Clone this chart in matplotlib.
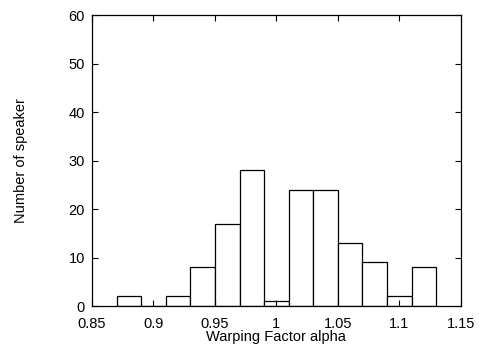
import matplotlib
matplotlib.use("Agg")
import matplotlib.pyplot as plt

bin_centers = [0.88, 0.90, 0.92, 0.94, 0.96, 0.98, 1.00, 1.02, 1.04, 1.06, 1.08, 1.10, 1.12]
counts = [2, 0, 2, 8, 17, 28, 1, 24, 24, 13, 9, 2, 8]
xticks = [0.85, 0.9, 0.95, 1.0, 1.05, 1.1, 1.15]
xticklabels = ["0.85", "0.9", "0.95", "1", "1.05", "1.1", "1.15"]
yticks = [0, 10, 20, 30, 40, 50, 60]

plt.rcParams['font.family'] = ['Liberation Sans', 'DejaVu Sans']
fig = plt.figure(figsize=(4.8, 3.5), dpi=100)
ax = fig.add_axes([0.1917, 0.1257, 0.7683, 0.8313])
ax.bar(bin_centers, counts, width=0.02, facecolor='white', edgecolor='black', linewidth=0.9)
ax.set_xlim(0.85, 1.15)
ax.set_ylim(0, 60)
ax.set_xticks(xticks)
ax.set_xticklabels(xticklabels)
ax.set_yticks(yticks)
ax.tick_params(direction='in', top=True, right=True, length=4, width=0.8, labelsize=10.5)
ax.tick_params(axis='x', pad=8)
ax.tick_params(axis='y', pad=5)
for s in ax.spines.values():
    s.set_linewidth(0.9)
ax.set_xlabel("Warping Factor alpha", fontsize=10.5, labelpad=-1)
ax.set_ylabel("Number of speaker", fontsize=10.5, labelpad=29)
fig.savefig("out.png", dpi=100)
